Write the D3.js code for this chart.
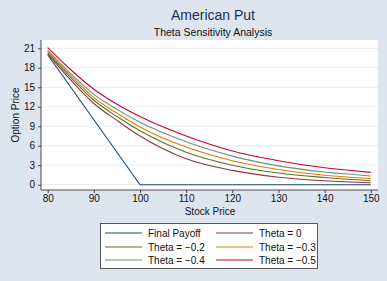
<!DOCTYPE html>
<html>
<head>
<meta charset="utf-8">
<script src="https://cdn.jsdelivr.net/npm/d3@7"></script>
<style>
html,body{margin:0;padding:0;background:#dfe5ef;}
svg{display:block;font-family:"Liberation Sans",Arial,sans-serif;}
</style>
</head>
<body>
<svg id="chart" width="387" height="281"></svg>
<script>
const stockPrices = [80, 85, 90, 95, 100, 110, 120, 130, 140, 150];
const finalPayoff = [20, 15, 10, 5, 0, 0, 0, 0, 0, 0];
const theta0    = [20.15, 16.1, 12.5, 9.9, 7.5, 4.0, 2.2, 1.15, 0.6, 0.3];
const thetaM02  = [20.3, 16.5, 13.0, 10.5, 8.3, 5.0, 3.0, 1.8, 1.1, 0.6];
const thetaM03  = [20.55, 16.8, 13.4, 11.0, 8.9, 5.8, 3.7, 2.35, 1.45, 0.95];
const thetaM04  = [20.7, 17.1, 13.9, 11.6, 9.6, 6.6, 4.4, 2.9, 1.95, 1.35];
const thetaM05  = [21.1, 17.7, 14.7, 12.4, 10.5, 7.5, 5.2, 3.7, 2.6, 1.9];
const seriesNames = ["Final Payoff", "Theta = 0", "Theta = \u22120.2", "Theta = \u22120.3", "Theta = \u22120.4", "Theta = \u22120.5"];
const seriesColors = ["#1a476f", "#90353b", "#55752f", "#e37e00", "#6e8e84", "#c10534"];
const xTicks = [80, 90, 100, 110, 120, 130, 140, 150];
const yTicks = [0, 3, 6, 9, 12, 15, 18, 21];

const svg = d3.select("#chart");
const W = 387, H = 281;
const plot = {left: 41, right: 378, top: 40, bottom: 190};

svg.append("rect").attr("width", W).attr("height", H).attr("fill", "#dfe5ef");
svg.append("rect").attr("x", plot.left).attr("y", plot.top)
  .attr("width", plot.right - plot.left).attr("height", plot.bottom - plot.top)
  .attr("fill", "#ffffff");

const x = d3.scaleLinear().domain([80, 150]).range([47.7, 370.8]);
const y = d3.scaleLinear().domain([0, 21]).range([184.7, 48.3]);

// grid
svg.append("g").selectAll("line").data(yTicks).join("line")
  .attr("x1", plot.left).attr("x2", plot.right)
  .attr("y1", d => y(d)).attr("y2", d => y(d))
  .attr("stroke", "#e8ebef").attr("stroke-width", 1);

// axes
const yAxis = svg.append("g").attr("transform", `translate(${plot.left},0)`)
  .call(d3.axisLeft(y).tickValues(yTicks).tickSize(3).tickPadding(3).tickSizeOuter(0));
yAxis.select(".domain").attr("d", `M0,${plot.top}V${plot.bottom}`);
const xAxis = svg.append("g").attr("transform", `translate(0,${plot.bottom})`)
  .call(d3.axisBottom(x).tickValues(xTicks).tickSize(3).tickPadding(2).tickSizeOuter(0));
xAxis.select(".domain").attr("d", `M${plot.left},0H${plot.right}`);
[yAxis, xAxis].forEach(a => {
  a.selectAll("path,line").attr("stroke", "#222").attr("stroke-width", 0.8);
  a.selectAll("text").attr("font-size", 10).attr("fill", "#111")
    .attr("font-family", "Liberation Sans, Arial, sans-serif");
});

// series
const allSeries = [finalPayoff, theta0, thetaM02, thetaM03, thetaM04, thetaM05];
const lineLinear = d3.line().x((d, i) => x(stockPrices[i])).y(d => y(d));
const lineSmooth = d3.line().x((d, i) => x(stockPrices[i])).y(d => y(d)).curve(d3.curveMonotoneX);
allSeries.forEach((vals, k) => {
  svg.append("path").datum(vals)
    .attr("d", k === 0 ? lineLinear : lineSmooth)
    .attr("fill", "none").attr("stroke", seriesColors[k]).attr("stroke-width", 1.1);
});

// titles
svg.append("text").attr("x", 213).attr("y", 20).attr("text-anchor", "middle")
  .attr("font-size", 14).attr("fill", "#1c2d5e").text("American Put");
svg.append("text").attr("x", 213).attr("y", 36).attr("text-anchor", "middle")
  .attr("font-size", 10.5).attr("fill", "#111").text("Theta Sensitivity Analysis");
svg.append("text").attr("x", 210).attr("y", 215).attr("text-anchor", "middle")
  .attr("font-size", 10).attr("fill", "#111").text("Stock Price");
svg.append("text").attr("transform", "translate(19,115) rotate(-90)").attr("text-anchor", "middle")
  .attr("font-size", 10).attr("fill", "#111").text("Option Price");

// legend
const lg = svg.append("g");
lg.append("rect").attr("x", 100.5).attr("y", 223.5).attr("width", 217).attr("height", 45)
  .attr("fill", "#ffffff").attr("stroke", "#333").attr("stroke-width", 0.8);
const rowsY = [233, 247, 260];
seriesNames.forEach((name, k) => {
  const col = k % 2, row = Math.floor(k / 2);
  const lx = col === 0 ? 105 : 216;
  const yy = rowsY[row];
  lg.append("line").attr("x1", lx).attr("x2", lx + 37).attr("y1", yy).attr("y2", yy)
    .attr("stroke", seriesColors[k]).attr("stroke-width", 1.1);
  lg.append("text").attr("x", lx + 43).attr("y", yy + 3.5).attr("font-size", 10)
    .attr("fill", "#111").text(name);
});
</script>
</body>
</html>
